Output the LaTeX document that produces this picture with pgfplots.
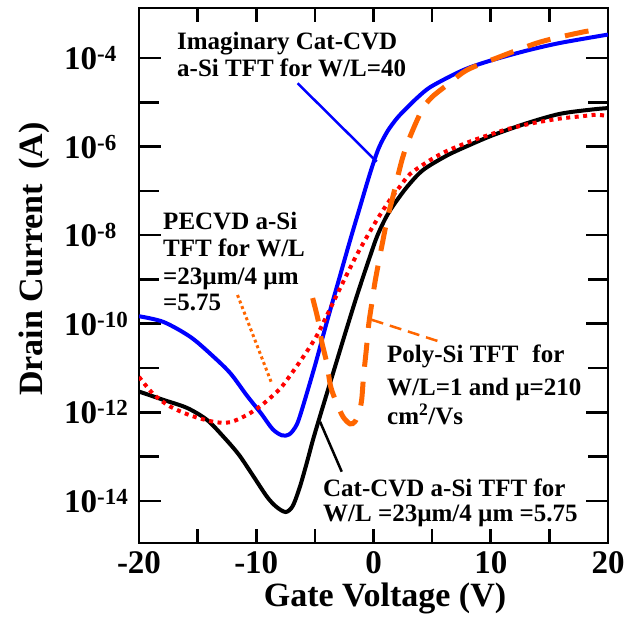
\documentclass[border=0pt]{standalone}
\usepackage{fontspec}
\setmainfont{Liberation Serif}
\usepackage{pgfplots}
\pgfplotsset{compat=1.18}
\definecolor{cvdblue}{RGB}{0,0,255}
\definecolor{pecred}{RGB}{255,0,0}
\definecolor{polyor}{RGB}{255,102,0}
% tick label 10^n in text font (y values are log10 of the current)
\newcommand{\dec}[1]{10\raisebox{8pt}{\fontsize{23}{23}\selectfont #1}}
\newcommand{\anno}{\fontsize{25}{30}\selectfont\bfseries}

\begin{document}
\begin{tikzpicture}
\begin{axis}[
  scale only axis, width=469pt, height=535pt,
  xmin=-20, xmax=20, ymin=-14.95, ymax=-2.87,
  axis line style={line width=2.6pt},
  tick style={line width=2.6pt, black},
  tick align=inside,
  major tick length=22pt, minor tick length=20pt,
  xtick style={/pgfplots/major tick length=14pt,/pgfplots/minor tick length=14pt},
  xtick={-20,-10,0,10,20}, minor xtick={-15,-5,5,15},
  xticklabels={-20,-10,0,10,20},
  ytick={-14,-12,-10,-8,-6,-4}, minor ytick={-13,-11,-9,-7,-5},
  yticklabels={\dec{-14},\dec{-12},\dec{-10},\dec{-8},\dec{-6},\dec{-4}},
  ticklabel style={font=\fontsize{33}{36}\selectfont\bfseries, inner sep=0pt},
  yticklabel style={anchor=west, xshift=-75pt},
  xticklabel style={anchor=north, yshift=-8pt},
  xlabel={Gate Voltage (V)}, ylabel={Drain Current\hspace{6pt} (A)},
  label style={font=\fontsize{34}{38}\selectfont\bfseries, inner sep=0pt},
  xlabel style={at={(axis description cs:0.5245,-0.104)}, anchor=center},
  ylabel style={at={(axis description cs:-0.2239,0.531)}, anchor=center},
]

% Imaginary Cat-CVD a-Si TFT, W/L=40
\addplot[cvdblue, line width=4pt, smooth] coordinates {
  (-20,-9.83) (-17.9,-9.96) (-15.6,-10.30) (-13.7,-10.73) (-12.2,-11.12)
  (-10.8,-11.62) (-9.6,-12.02) (-8.6,-12.38) (-7.8,-12.52) (-7.2,-12.50)
  (-6.7,-12.35) (-6.27,-12.08) (-5.0,-10.95) (-4.0,-9.98) (-3.0,-9.05)
  (-2.0,-8.12) (-1.15,-7.36) (-0.5,-6.78) (0,-6.36) (0.5,-6.0)
  (1.2,-5.65) (2.0,-5.36) (2.86,-5.12) (3.8,-4.88) (4.82,-4.66)
  (6.78,-4.38) (8.23,-4.21) (10.2,-4.04) (13.1,-3.83) (15.9,-3.66) (20,-3.47)};

% Cat-CVD a-Si TFT, W/L=5.75
\addplot[black, line width=4pt, smooth] coordinates {
  (-20,-11.53) (-17.9,-11.72) (-15.9,-11.90) (-14.2,-12.17) (-12.8,-12.55)
  (-11.5,-12.95) (-10.3,-13.42) (-9.1,-13.90) (-8.3,-14.13) (-7.5,-14.25)
  (-6.9,-14.12) (-6.3,-13.70) (-5.7,-13.15) (-5.16,-12.62) (-4.5,-12.03)
  (-3.5,-11.16) (-2.5,-10.29) (-1.6,-9.52) (-1.0,-9.03) (-0.3,-8.48)
  (0.3,-8.03) (1.0,-7.63) (1.66,-7.34) (2.86,-6.91) (4.22,-6.53)
  (6.27,-6.20) (8.23,-5.96) (10.2,-5.74) (13.1,-5.47) (15.9,-5.26)
  (18.7,-5.16) (20,-5.13)};

% PECVD a-Si TFT
\addplot[pecred, line width=4pt, dash pattern=on 4pt off 4.5pt, smooth] coordinates {
  (-20,-11.2) (-18.8,-11.58) (-17.4,-11.86) (-15.5,-12.08) (-13.5,-12.22)
  (-12.2,-12.22) (-10.8,-12.06) (-9.6,-11.85) (-8.5,-11.6) (-7.7,-11.38)
  (-6.0,-10.75) (-4.8,-10.25) (-3.7,-9.66) (-2.8,-9.17) (-1.5,-8.48)
  (0,-7.78) (1.2,-7.28) (2.2,-6.92) (3.11,-6.62) (4.5,-6.36)
  (5.93,-6.14) (7.6,-5.95) (9.34,-5.78) (11.5,-5.60) (13.6,-5.47)
  (15.8,-5.37) (17.9,-5.31) (19.0,-5.28) (19.7,-5.30)};

% Poly-Si TFT
\addplot[polyor, line width=5pt, dash pattern=on 24pt off 15pt, smooth] coordinates {
  (-5.19,-9.42) (-4.73,-9.91) (-4.42,-10.40) (-3.99,-10.88) (-3.65,-11.42)
  (-3.14,-11.79) (-2.60,-12.10) (-2.00,-12.26) (-1.58,-12.21) (-1.24,-12.01)
  (-1.01,-11.72) (-0.85,-11.19) (-0.62,-10.6) (-0.40,-10.0) (-0.15,-9.55)
  (0.2,-8.95) (1.15,-7.66) (1.58,-7.21) (2.43,-6.30) (3.11,-5.78)
  (4.14,-5.17) (4.99,-4.88) (6.52,-4.56) (7.97,-4.27) (10.5,-4.0)
  (14.2,-3.64) (17.9,-3.41) (19.1,-3.37)};

% leader lines
\addplot[cvdblue, line width=2.5pt] coordinates {(-6.47,-4.57) (0.27,-6.34)};
\addplot[black, line width=2.5pt] coordinates {(-4.56,-12.21) (-2.71,-13.34)};
\addplot[polyor, line width=2.5pt, dash pattern=on 12pt off 7pt] coordinates {(-0.15,-9.91) (5.95,-10.43)};
\addplot[polyor, line width=3pt, dash pattern=on 3pt off 3pt] coordinates {(-11.6,-9.35) (-8.66,-11.36)};

\begin{scope}[every node/.style={anchor=base west, inner sep=0pt, font=\anno}]
\node at (axis cs:-16.76,-3.80) {Imaginary Cat-CVD};
\node at (axis cs:-16.76,-4.41) {a-Si TFT for W/L=40};
\node at (axis cs:-17.95,-7.88) {PECVD a-Si};
\node at (axis cs:-17.95,-8.49) {TFT for W/L};
\node at (axis cs:-17.95,-9.12) {=23µm/4 µm};
\node at (axis cs:-17.95,-9.71) {=5.75};
\node at (axis cs:1.15,-10.88) {Poly-Si TFT\hspace{14pt}for};
\node at (axis cs:1.15,-11.61) {W/L=1 and µ=210};
\node at (axis cs:1.15,-12.28) {cm\textsuperscript{2}/Vs};
\node at (axis cs:-4.31,-13.91) {Cat-CVD a-Si TFT for};
\node at (axis cs:-4.31,-14.47) {W/L =23µm/4 µm =5.75};
\end{scope}
\end{axis}
\pgfresetboundingbox
\path ([xshift=-139pt,yshift=-76pt]current axis.south west) rectangle ([xshift=17pt,yshift=8pt]current axis.north east);
\end{tikzpicture}
\end{document}
